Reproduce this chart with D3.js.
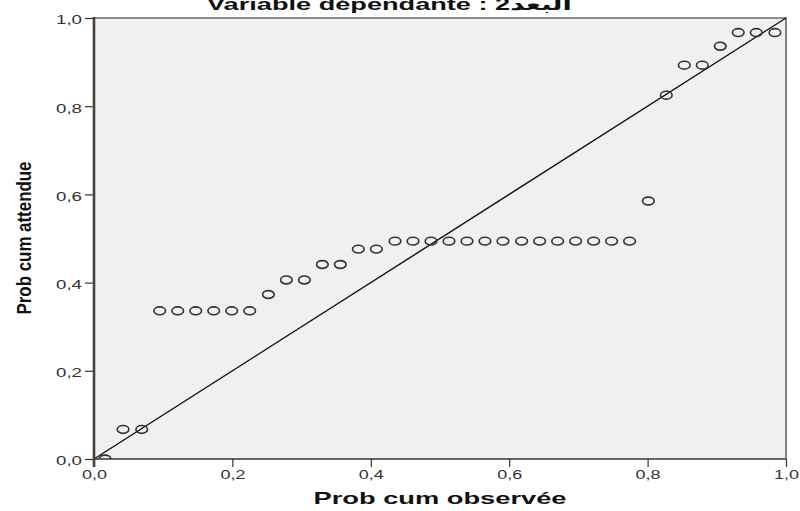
<!DOCTYPE html>
<html>
<head>
<meta charset="utf-8">
<script src="https://cdn.jsdelivr.net/npm/d3@7/dist/d3.min.js"></script>
<style>
  html, body { margin: 0; padding: 0; background: #ffffff; }
  svg { display: block; font-family: "Liberation Sans", Arial, sans-serif; }
</style>
</head>
<body>
<svg id="chart" width="800" height="511"></svg>
<script>
// Normal P-P plot of regression standardized residuals
const titleText = "Variable dépendante : البعد2";
const xTitle = "Prob cum observée";
const yTitle = "Prob cum attendue";

// Observed cumulative probability of each residual
const observed = [
  0.016, 0.042, 0.069, 0.095, 0.121, 0.147, 0.173, 0.199, 0.225, 0.252,
  0.278, 0.304, 0.330, 0.356, 0.382, 0.408, 0.435, 0.461, 0.487, 0.513,
  0.539, 0.565, 0.591, 0.618, 0.644, 0.670, 0.696, 0.722, 0.748, 0.774,
  0.801, 0.827, 0.853, 0.879, 0.905, 0.931, 0.957, 0.984
];
// Expected cumulative probability under normality
const expected = [
  0.000, 0.067, 0.067, 0.336, 0.336, 0.336, 0.336, 0.336, 0.336, 0.373,
  0.406, 0.406, 0.441, 0.441, 0.476, 0.476, 0.494, 0.494, 0.494, 0.494,
  0.494, 0.494, 0.494, 0.494, 0.494, 0.494, 0.494, 0.494, 0.494, 0.494,
  0.585, 0.825, 0.893, 0.893, 0.936, 0.967, 0.967, 0.967
];
const tickValues = [0, 0.2, 0.4, 0.6, 0.8, 1.0];

const frLocale = d3.formatLocale({ decimal: ",", thousands: " ", grouping: [3], currency: ["", " €"] });
const fmt = frLocale.format(".1f");

const svg = d3.select("#chart");
const plot = { left: 94, right: 786, top: 18, bottom: 459 };

const x = d3.scaleLinear().domain([0, 1]).range([plot.left, plot.right]);
const y = d3.scaleLinear().domain([0, 1]).range([plot.bottom, plot.top]);

// plot background
svg.append("rect")
  .attr("x", plot.left).attr("y", plot.top)
  .attr("width", plot.right - plot.left).attr("height", plot.bottom - plot.top)
  .attr("fill", "#f0f0f0");

svg.append("defs").append("clipPath").attr("id", "plotClip")
  .append("rect")
  .attr("x", plot.left).attr("y", plot.top)
  .attr("width", plot.right - plot.left).attr("height", plot.bottom - plot.top);

// frame: top and right edges
svg.append("path")
  .attr("d", `M${plot.left},${plot.top}H${plot.right}V${plot.bottom}`)
  .attr("fill", "none").attr("stroke", "#6a6a6a").attr("stroke-width", 1.6);

// reference diagonal
svg.append("line")
  .attr("x1", x(0)).attr("y1", y(0)).attr("x2", x(1)).attr("y2", y(1))
  .attr("stroke", "#111").attr("stroke-width", 1.4);

// points
const pts = observed.map((o, i) => ({ o, e: expected[i] }));
svg.append("g").attr("clip-path", "url(#plotClip)")
  .selectAll("ellipse").data(pts).join("ellipse")
  .attr("cx", d => x(d.o)).attr("cy", d => y(d.e))
  .attr("rx", 5.8).attr("ry", 3.9)
  .attr("fill", "none").attr("stroke", "#333").attr("stroke-width", 1.6);

// x axis
const gx = svg.append("g").attr("transform", `translate(0,${plot.bottom})`)
  .call(d3.axisBottom(x).tickValues(tickValues).tickSize(8).tickPadding(3).tickFormat(fmt));
gx.select(".domain").remove();
gx.selectAll(".tick line").attr("stroke", "#333").attr("stroke-width", 1.2);
gx.selectAll(".tick text")
  .attr("font-family", "Liberation Sans, Arial, sans-serif")
  .attr("font-size", 13).attr("fill", "#333")
  .attr("textLength", 25).attr("lengthAdjust", "spacingAndGlyphs");
svg.append("line")
  .attr("x1", plot.left).attr("x2", plot.right).attr("y1", plot.bottom).attr("y2", plot.bottom)
  .attr("stroke", "#333").attr("stroke-width", 1.6);

// y axis
const gy = svg.append("g").attr("transform", `translate(${plot.left},0)`)
  .call(d3.axisLeft(y).tickValues(tickValues).tickSize(9).tickPadding(3).tickFormat(fmt));
gy.select(".domain").remove();
gy.selectAll(".tick line").attr("stroke", "#333").attr("stroke-width", 1.2);
gy.selectAll(".tick text")
  .attr("font-family", "Liberation Sans, Arial, sans-serif")
  .attr("font-size", 13).attr("fill", "#333").attr("dy", "0.45em")
  .attr("textLength", 26).attr("lengthAdjust", "spacingAndGlyphs");
svg.append("line")
  .attr("x1", plot.left).attr("x2", plot.left).attr("y1", plot.top - 1).attr("y2", plot.bottom + 8)
  .attr("stroke", "#444").attr("stroke-width", 2.6);

// axis titles
svg.append("text")
  .attr("x", (plot.left + plot.right) / 2).attr("y", 504)
  .attr("text-anchor", "middle")
  .attr("font-size", 17).attr("font-weight", "bold").attr("fill", "#111")
  .attr("textLength", 253).attr("lengthAdjust", "spacingAndGlyphs")
  .text(xTitle);

svg.append("text")
  .attr("transform", "translate(31,238) rotate(-90)")
  .attr("text-anchor", "middle")
  .attr("font-size", 20).attr("font-weight", "bold").attr("fill", "#111")
  .attr("textLength", 153).attr("lengthAdjust", "spacingAndGlyphs")
  .text(yTitle);

// chart title, stretched to its drawn width
const title = svg.append("text")
  .attr("x", 0).attr("y", 0)
  .attr("font-family", "Liberation Sans, DejaVu Sans, sans-serif")
  .attr("font-size", 17).attr("font-weight", "bold").attr("fill", "#111")
  .text(titleText);
const tw = title.node().getComputedTextLength();
const targetW = 365;
title.attr("transform", `translate(207,9.5) scale(${targetW / tw},1)`);
</script>
</body>
</html>
